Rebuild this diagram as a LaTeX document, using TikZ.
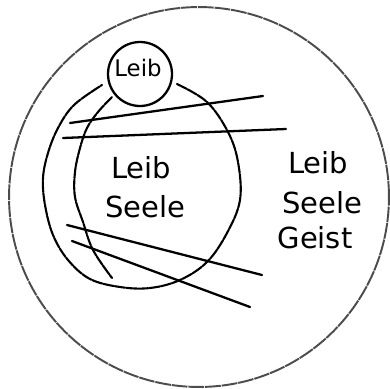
\documentclass[tikz,border=0pt]{standalone}
\usepackage{fontspec}
\setmainfont{DejaVu Sans}
\usetikzlibrary{shapes, positioning}

\begin{document}
\begin{tikzpicture}[x=0.02cm, y=-0.02cm,
        every node/.style={font=\fontsize{16.5}{18}\selectfont, inner sep=0pt},
        ring/.style={circle, draw, line width=1.3pt},
        outerring/.style={circle, draw=black!70, line width=1.1pt, dash pattern=on 9pt off 0.5pt},
        sketch/.style={line width=1.2pt, line cap=round, dash pattern=on 6pt off 0.6pt},
        stroke/.style={line width=1.3pt, line cap=round}]
        \useasboundingbox (0,0) rectangle (389,389);

        % Kreise
        \node[outerring, minimum size=7.6cm] (geistring) at (199,197) {};
        \node[ring, minimum size=1.28cm] (leibring) at (140,74) {};

        % Texte
        \node[font=\fontsize{13}{15}\selectfont] (leibsmall) at (138,68) {Leib};
        \node (leibmid) at (141,168) {Leib};
        \node (seelemid) at (145,207) {Seele};
        \node (leibright) at (318,163) {Leib};
        \node (seeleright) at (322,203) {Seele};
        \node (geistright) at (315,238) {Geist};

        % Seele-Oval mit linkem Bogen
        \draw[sketch] plot[smooth, tension=0.6] coordinates {(177,84) (207,102) (228,132) (238,162) (240,200) (227,233) (207,262) (180,280) (150,288) (120,287) (90,279) (68,260) (53,235) (45,205) (43,178) (48,153) (58,128) (74,105) (102,85)};
        \draw[sketch] plot[smooth, tension=0.6] coordinates {(112,97) (98,112) (87,128) (80,148) (75,172) (75,197) (83,222) (93,250) (112,278)};

        % Striche
        \coordinate (a1) at (70,123);  \coordinate (a2) at (263,96);
        \coordinate (b1) at (63,138);  \coordinate (b2) at (286,129);
        \coordinate (c1) at (67,225);  \coordinate (c2) at (262,275);
        \coordinate (d1) at (72,241);  \coordinate (d2) at (250,307);
        \draw[stroke] (a1) -- (a2);
        \draw[stroke] (b1) -- (b2);
        \draw[stroke] (c1) -- (c2);
        \draw[stroke] (d1) -- (d2);
    \end{tikzpicture}
\end{document}
